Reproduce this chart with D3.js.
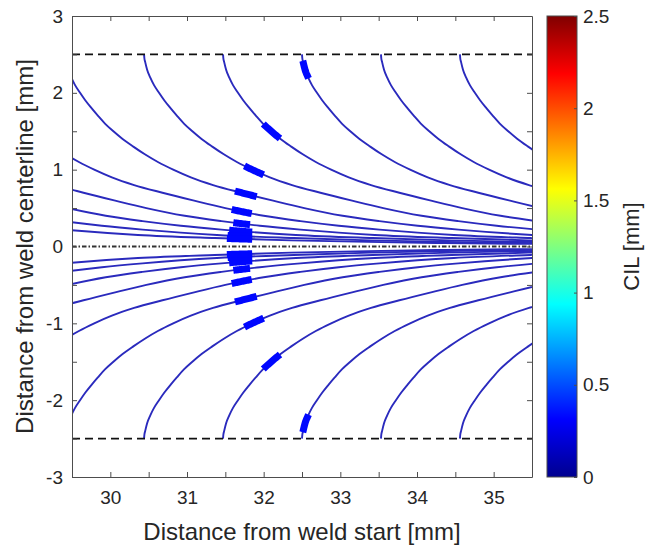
<!DOCTYPE html>
<html>
<head>
<meta charset="utf-8">
<script src="https://cdn.jsdelivr.net/npm/d3@7"></script>
<style>
  html, body { margin: 0; padding: 0; background: #fff; }
  svg { display: block; font-family: "Liberation Sans", Arial, Helvetica, sans-serif; }
</style>
</head>
<body>
<svg id="chart" width="655" height="548"></svg>
<script>
// Streamline shape: lateral distance |y| (mm) against x travelled from its start (mm)
const profileY  = [2.5, 2.45, 2.4, 2.3, 2.2, 2.1, 2.0, 1.9, 1.8, 1.7, 1.6, 1.5, 1.4, 1.3, 1.2, 1.1, 1.0, 0.9, 0.8, 0.7, 0.6, 0.5, 0.4, 0.33, 0.27, 0.22, 0.15, 0.11, 0.08, 0.06, 0.045, 0.034, 0.026];
const profileDX = [0, 0.004, 0.015, 0.04, 0.08, 0.13, 0.195, 0.265, 0.345, 0.43, 0.52, 0.63, 0.75, 0.89, 1.04, 1.21, 1.41, 1.64, 1.93, 2.3, 2.7, 3.12, 3.62, 4.1, 4.6, 5.13, 6.1, 7.1, 8.1, 9.1, 10.1, 11.2, 12.2];

// x where each streamline leaves the |y| = 2.5 mm boundary
const lineStartX = [34.56, 33.53, 32.50, 31.47, 30.44, 29.41, 28.38, 27.35, 26.32, 25.29, 24.26];

// Highlighted stretch of each streamline (x range, mm); null = none
const segFromX = [null, null, 32.51,  31.995, 31.75, 31.626, 31.583, 31.604, 31.55, 31.53, 31.52];
const segToX   = [null, null, 32.585, 32.213, 32.00, 31.909, 31.844, 31.822, 31.85, 31.85, 31.85];
const segCIL = 0.33;          // CIL carried by the highlighted stretches (mm)

const sides = [1, -1];        // upper / lower half
const boundaryY = [2.5, -2.5];
const centreY = 0;

const xDomain = [29.5, 35.5];
const yDomain = [-3, 3];
const xTickValues = [30, 30.5, 31, 31.5, 32, 32.5, 33, 33.5, 34, 34.5, 35];
const yTickValues = [-3, -2.5, -2, -1.5, -1, -0.5, 0, 0.5, 1, 1.5, 2, 2.5, 3];
const cbTickValues = [0, 0.5, 1, 1.5, 2, 2.5];
const cilDomain = [0, 2.5];
const jetStops = ["#00008f", "#0000ff", "#00ffff", "#ffff00", "#ff0000", "#800000"];
const jetOffsets = [0, 0.125, 0.375, 0.625, 0.875, 1];

const xLabel = "Distance from weld start [mm]";
const yLabel = "Distance from weld centerline [mm]";
const cbLabel = "CIL [mm]";

// ---- layout
const plot = { left: 72, top: 16, right: 532, bottom: 477 };
const cb = { left: 547, right: 577 };
const ink = "#262626";
const axisGrey = "#4d4d4d";
const lineColour = "#2a2abd";

const svg = d3.select("#chart");

const x = d3.scaleLinear().domain(xDomain).range([plot.left, plot.right]);
const y = d3.scaleLinear().domain(yDomain).range([plot.bottom, plot.top]);
const jet = d3.scaleLinear().domain(jetOffsets).range(jetStops);
const cilToUnit = d3.scaleLinear().domain(cilDomain).range([0, 1]);

const defs = svg.append("defs");
defs.append("clipPath").attr("id", "plotClip")
  .append("rect")
  .attr("x", plot.left).attr("y", plot.top)
  .attr("width", plot.right - plot.left).attr("height", plot.bottom - plot.top);

const grad = defs.append("linearGradient").attr("id", "jetGrad")
  .attr("x1", 0).attr("y1", 1).attr("x2", 0).attr("y2", 0);
jetOffsets.forEach((o, i) => grad.append("stop").attr("offset", o).attr("stop-color", jetStops[i]));

const g = svg.append("g").attr("clip-path", "url(#plotClip)");

// centreline (dash-dot)
g.append("line")
  .attr("x1", x(xDomain[0])).attr("x2", x(xDomain[1]))
  .attr("y1", y(centreY)).attr("y2", y(centreY))
  .attr("stroke", "#333").attr("stroke-width", 2.2)
  .attr("stroke-dasharray", "4.5,2,1.5,2");

// streamlines (x increases monotonically along each one)
const lineGen = d3.line()
  .x(d => x(d[0])).y(d => y(d[1]))
  .curve(d3.curveMonotoneX);

const segPaths = [];
sides.forEach(side => {
  lineStartX.forEach((x0, i) => {
    const pts = profileY.map((py, k) => [x0 + profileDX[k], side * py]);
    const p = g.append("path")
      .attr("d", lineGen(pts))
      .attr("fill", "none")
      .attr("stroke", lineColour)
      .attr("stroke-width", 1.9);
    if (segFromX[i] !== null) segPaths.push({ node: p.node(), from: segFromX[i], to: segToX[i] });
  });
});

// highlighted stretches, following each streamline's own path
function lengthAtX(node, px) {
  let lo = 0, hi = node.getTotalLength();
  for (let k = 0; k < 40; k++) {
    const mid = (lo + hi) / 2;
    if (node.getPointAtLength(mid).x < px) lo = mid; else hi = mid;
  }
  return (lo + hi) / 2;
}
segPaths.forEach(s => {
  const l1 = lengthAtX(s.node, x(s.from));
  const l2 = lengthAtX(s.node, x(s.to));
  const pts = d3.range(0, 21).map(k => {
    const p = s.node.getPointAtLength(l1 + (l2 - l1) * k / 20);
    return [p.x, p.y];
  });
  g.append("path")
    .attr("d", d3.line()(pts))
    .attr("fill", "none")
    .attr("stroke", jet(cilToUnit(segCIL)))
    .attr("stroke-width", 7)
    .attr("stroke-linecap", "butt");
});

// |y| = 2.5 mm boundaries
boundaryY.forEach(by => {
  g.append("line")
    .attr("x1", x(xDomain[0])).attr("x2", x(xDomain[1]))
    .attr("y1", y(by)).attr("y2", y(by))
    .attr("stroke", "#111").attr("stroke-width", 1.6)
    .attr("stroke-dasharray", "8,5");
});

// ---- axes
const fmt = d => Number.isInteger(d) ? String(d) : "";
function styleAxis(sel, fontSize) {
  sel.select(".domain").attr("stroke", axisGrey).attr("stroke-width", 1);
  sel.selectAll(".tick line").attr("stroke", axisGrey);
  sel.selectAll(".tick text").attr("fill", ink).style("font-size", fontSize + "px")
    .style("font-family", "'Liberation Sans', Arial, Helvetica, sans-serif");
}

const ax = svg.append("g").attr("transform", `translate(0,${plot.bottom})`)
  .call(d3.axisBottom(x).tickValues(xTickValues).tickFormat(fmt)
    .tickSizeInner(-5).tickSizeOuter(0).tickPadding(14));
styleAxis(ax, 19);

const axTop = svg.append("g").attr("transform", `translate(0,${plot.top})`)
  .call(d3.axisTop(x).tickValues(xTickValues).tickFormat("")
    .tickSizeInner(-5).tickSizeOuter(0));
styleAxis(axTop, 19);

const ay = svg.append("g").attr("transform", `translate(${plot.left},0)`)
  .call(d3.axisLeft(y).tickValues(yTickValues).tickFormat(fmt)
    .tickSizeInner(-5).tickSizeOuter(0).tickPadding(9));
styleAxis(ay, 19);

const ayR = svg.append("g").attr("transform", `translate(${plot.right},0)`)
  .call(d3.axisRight(y).tickValues(yTickValues).tickFormat("")
    .tickSizeInner(-5).tickSizeOuter(0));
styleAxis(ayR, 19);

svg.append("text")
  .attr("x", (plot.left + plot.right) / 2).attr("y", 540)
  .attr("text-anchor", "middle").attr("fill", ink)
  .style("font-size", "24px").text(xLabel);

svg.append("text")
  .attr("transform", `translate(33,${(plot.top + plot.bottom) / 2}) rotate(-90)`)
  .attr("text-anchor", "middle").attr("fill", ink)
  .style("font-size", "24px").text(yLabel);

// ---- colour bar
const cbScale = d3.scaleLinear().domain(cilDomain).range([plot.bottom, plot.top]);
svg.append("rect")
  .attr("x", cb.left).attr("y", plot.top)
  .attr("width", cb.right - cb.left).attr("height", plot.bottom - plot.top)
  .attr("fill", "url(#jetGrad)");

const acb = svg.append("g").attr("transform", `translate(${cb.right},0)`)
  .call(d3.axisRight(cbScale).tickValues(cbTickValues).tickFormat(d => String(d))
    .tickSizeInner(-3).tickSizeOuter(0).tickPadding(6));
styleAxis(acb, 19);
acb.select(".domain").remove();
svg.append("rect")
  .attr("x", cb.left).attr("y", plot.top)
  .attr("width", cb.right - cb.left).attr("height", plot.bottom - plot.top)
  .attr("fill", "none").attr("stroke", axisGrey).attr("stroke-width", 1);

svg.append("text")
  .attr("transform", `translate(639,${(plot.top + plot.bottom) / 2}) rotate(-90)`)
  .attr("text-anchor", "middle").attr("fill", ink)
  .style("font-size", "22px").text(cbLabel);
</script>
</body>
</html>
